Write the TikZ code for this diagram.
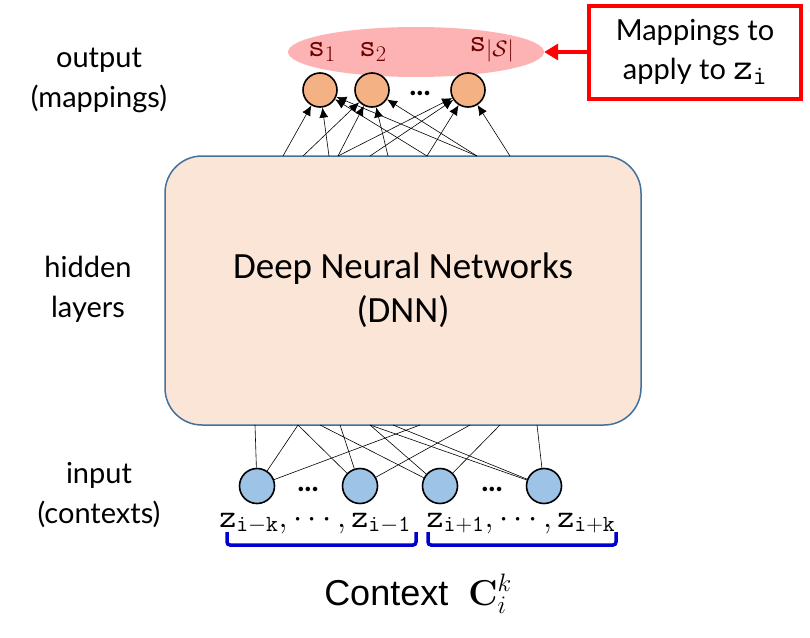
\RequirePackage{fix-cm}
\documentclass[tikz,border=0pt]{standalone}
\usepackage[no-math]{fontspec}
\setmainfont{Lato}
\newfontfamily\calfont{Carlito}
\newfontfamily\arialfont{Liberation Sans}
\usetikzlibrary{arrows.meta,shapes.geometric,calc}
\definecolor{peach}{HTML}{F4B183}
\definecolor{boxfill}{HTML}{FBE5D6}
\definecolor{boxedge}{HTML}{41719C}
\definecolor{inblue}{HTML}{9DC3E6}
\definecolor{pinkfill}{HTML}{FDB3B3}
\definecolor{sred}{HTML}{6B0000}
\definecolor{braceblue}{HTML}{0000D0}
\tikzset{
  outnode/.style={circle, draw=black, line width=1.6pt, fill=peach, minimum size=34pt, inner sep=0pt},
  innode/.style={circle, draw=black, line width=1.6pt, fill=inblue, minimum size=35pt, inner sep=0pt},
  wire/.style={line width=0.6pt, black},
  sidelabel/.style={font=\fontsize{29}{40}\selectfont, align=center},
  slabel/.style={text=sred, font=\fontsize{32}{32}\selectfont, inner sep=0pt},
  dotlabel/.style={font=\fontsize{30}{30}\selectfont\bfseries, inner sep=0pt},
  brace/.style={draw=braceblue, line width=3.5pt, rounded corners=3pt},
}
\begin{document}
\begin{tikzpicture}[x=1pt,y=-1pt]
\useasboundingbox (0,0) rectangle (810,637);
% ellipse behind output nodes
\node[ellipse, fill=pinkfill, minimum width=256pt, minimum height=50pt, inner sep=0pt] (ell) at (416,52) {};
\node[slabel] (s1) at (322,52) {$\mathtt{s}_1$};
\node[slabel] (s2) at (373,52) {$\mathtt{s}_2$};
\node[slabel] (s3) at (492,50) {$\mathtt{s}_{|\mathcal{S}|}$};
% output nodes
\node[outnode] (o1) at (320,90) {};
\node[outnode] (o2) at (372,90) {};
\node[outnode] (o3) at (468,90) {};
\node[dotlabel] (odots) at (420,93) {...};
% DNN box
\node[draw=boxedge, fill=boxfill, line width=1.5pt, rounded corners=37pt,
      minimum width=476pt, minimum height=269pt, align=center,
      font=\calfont\fontsize{37}{44}\selectfont] (dnn) at (403,290.5) {Deep Neural Networks\\(DNN)};
% top coordinates
\coordinate (t1) at (283,156);
\coordinate (t2) at (303,156);
\coordinate (t3) at (329,156);
\coordinate (t4) at (338,156);
\coordinate (t5) at (370,156);
\coordinate (t6) at (388,156);
\coordinate (t7) at (427,156);
\coordinate (t8) at (477,156);
\coordinate (t9) at (510,156);
\foreach \a/\b in {t1/o1, t3/o1, t7/o1, t8/o1, t2/o2, t4/o2, t6/o2, t8/o2, t4/o3, t5/o3, t7/o3, t9/o3}
  \draw[wire, -{Latex[length=10pt,width=9pt]}] (\a) -- (\b);
% input nodes
\node[innode] (i1) at (257,486) {};
\node[innode] (i2) at (360,486) {};
\node[innode] (i3) at (440,486) {};
\node[innode] (i4) at (544,486) {};
\node[dotlabel] (idots1) at (308,489) {...};
\node[dotlabel] (idots2) at (492,489) {...};
% bottom coordinates
\coordinate (b1) at (255,425);
\coordinate (b2) at (298,425);
\coordinate (b3) at (320,425);
\coordinate (b4) at (340,425);
\coordinate (b5) at (370,425);
\coordinate (b6) at (393,425);
\coordinate (b7) at (420,425);
\coordinate (b8) at (470,425);
\coordinate (b9) at (500,425);
\coordinate (b10) at (537,425);
\foreach \a/\b in {i1/b1, i1/b2, i1/b7, i2/b2, i2/b4, i2/b8, i3/b3, i3/b5, i3/b9, i4/b5, i4/b6, i4/b10}
  \draw[wire] (\a) -- (\b);
% input labels
\node[font=\fontsize{33}{34}\selectfont, anchor=base, inner sep=0pt] (zl) at (315,527) {$\mathtt{z}_{\mathtt{i-k}},\cdots,\mathtt{z}_{\mathtt{i-1}}$};
\node[font=\fontsize{33}{34}\selectfont, anchor=base, inner sep=0pt] (zr) at (521,527) {$\mathtt{z}_{\mathtt{i+1}},\cdots,\mathtt{z}_{\mathtt{i+k}}$};
% braces
\draw[brace] (227,532) -- (227,545) -- (416,545) -- (416,532);
\draw[brace] (428,532) -- (428,545) -- (616,545) -- (616,532);
% context label
\node[font=\arialfont\fontsize{36}{40}\selectfont, anchor=base, inner sep=0pt] (ctx) at (418,605) {Context\ \ $\mathbf{C}_i^k$};
% side labels
\node[sidelabel] (lout) at (99,80) {output\\(mappings)};
\node[sidelabel] (lhid) at (88,289) {hidden\\layers};
\node[sidelabel] (lin) at (99,495) {input\\(contexts)};
% red box
\node[draw=red, line width=4pt, minimum width=212pt, minimum height=93pt, align=center,
      font=\fontsize{29}{39}\selectfont] (rbox) at (695,52) {Mappings to\\apply to {\fontsize{38}{36}\selectfont$\mathtt{z}_{\mathtt{i}}$}};
\draw[red, line width=4pt, -{Triangle[length=14pt,width=16pt]}] (rbox.west) -- (ell.east);
\end{tikzpicture}
\end{document}
